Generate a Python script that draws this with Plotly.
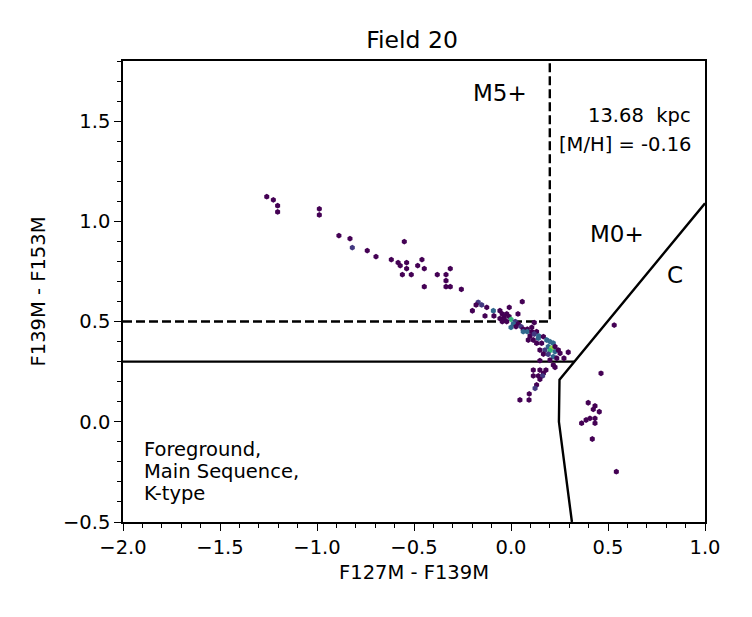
import plotly.graph_objects as go

# hexbin cell centres (colour index) and counts
hx = [-1.259, -1.225, -1.203, -1.203, -0.988, -0.988, -0.887, -0.830, -0.818, -0.741,
      -0.696, -0.550, -0.617, -0.582, -0.538, -0.571, -0.538, -0.459, -0.481, -0.447,
      -0.560, -0.514, -0.447, -0.380, -0.335, -0.313, -0.335, -0.335, -0.313, -0.256,
      -0.169, -0.180, -0.151, -0.125, -0.199, -0.091, -0.057, -0.009, 0.058, -0.134,
      -0.088, -0.045, -0.022, -0.035, -0.057, -0.010, -0.035, 0.000, 0.036, -0.022,
      -0.045, 0.022, 0.120, 0.012, 0.038, 0.000, 0.026, 0.052, 0.063, 0.084,
      0.107, 0.063, 0.084, 0.107, 0.132, 0.098, 0.120, 0.143, 0.089, 0.115,
      0.141, 0.167, 0.184, 0.201, 0.132, 0.158, 0.218, 0.192, 0.210, 0.227,
      0.149, 0.175, 0.201, 0.227, 0.244, 0.295, 0.253, 0.167, 0.192, 0.218,
      0.236, 0.273, 0.149, 0.201, 0.218, 0.227, 0.180, 0.149, 0.115, 0.115,
      0.141, 0.167, 0.163, 0.149, 0.132, 0.124, 0.094, 0.046, 0.093,
      0.532, 0.464, 0.398, 0.433, 0.424, 0.455, 0.433, 0.407, 0.387, 0.364,
      0.433, 0.419, 0.543]
hy = [1.123, 1.107, 1.078, 1.047, 1.062, 1.032, 0.929, 0.914, 0.869, 0.854,
      0.824, 0.899, 0.809, 0.794, 0.794, 0.779, 0.764, 0.809, 0.779, 0.764,
      0.734, 0.734, 0.674, 0.734, 0.734, 0.764, 0.704, 0.674, 0.674, 0.661,
      0.596, 0.583, 0.583, 0.571, 0.554, 0.554, 0.554, 0.571, 0.599, 0.528,
      0.528, 0.538, 0.538, 0.525, 0.515, 0.525, 0.511, 0.511, 0.538, 0.500,
      0.500, 0.500, 0.495, 0.488, 0.488, 0.471, 0.475, 0.475, 0.462, 0.462,
      0.471, 0.450, 0.450, 0.450, 0.450, 0.428, 0.438, 0.428, 0.408, 0.408,
      0.417, 0.425, 0.408, 0.400, 0.392, 0.392, 0.392, 0.375, 0.367, 0.375,
      0.358, 0.358, 0.355, 0.350, 0.358, 0.347, 0.342, 0.338, 0.337, 0.325,
      0.317, 0.317, 0.305, 0.308, 0.283, 0.272, 0.258, 0.258, 0.258, 0.229,
      0.229, 0.242, 0.229, 0.212, 0.184, 0.167, 0.139, 0.109, 0.109,
      0.482, 0.242, 0.095, 0.079, 0.062, 0.050, 0.017, 0.017, 0.009, -0.007,
      -0.007, -0.086, -0.249]
hc = [1, 1, 1, 1, 1, 1, 1, 1, 2, 1,
      1, 1, 1, 1, 1, 1, 1, 1, 1, 1,
      1, 1, 1, 1, 1, 1, 1, 1, 1, 1,
      2, 1, 2, 1, 1, 3, 1, 1, 1, 1,
      1, 1, 1, 1, 1, 1, 1, 5, 1, 1,
      1, 2, 1, 3, 1, 3, 1, 2, 1, 1,
      1, 3, 3, 1, 1, 1, 2, 3, 1, 1,
      3, 1, 3, 3, 1, 1, 3, 3, 6, 1,
      1, 2, 5, 3, 1, 1, 1, 1, 2, 3,
      1, 1, 1, 1, 1, 1, 1, 1, 1, 1,
      1, 1, 2, 1, 1, 2, 1, 1, 1,
      1, 1, 1, 1, 1, 1, 1, 1, 1, 1,
      1, 1, 1]

# region boundaries
dash_x = [-2.0, 0.2, 0.2]
dash_y = [0.5, 0.5, 1.8]
solid_h_x = [-2.0, 0.33]
solid_h_y = [0.3, 0.3]
solid_c_x = [1.0, 0.33, 0.25, 0.247, 0.314]
solid_c_y = [1.09, 0.3, 0.21, 0.0, -0.5]

FONT = "DejaVu Sans"
SMALL = 19.5
BIG = 23
fig = go.Figure()
fig.add_trace(go.Scatter(x=dash_x, y=dash_y, mode="lines",
                         line=dict(color="black", width=2.4, dash="9px,4px"),
                         hoverinfo="skip", showlegend=False))
fig.add_trace(go.Scatter(x=solid_h_x, y=solid_h_y, mode="lines",
                         line=dict(color="black", width=2.4),
                         hoverinfo="skip", showlegend=False))
fig.add_trace(go.Scatter(x=solid_c_x, y=solid_c_y, mode="lines",
                         line=dict(color="black", width=2.4),
                         hoverinfo="skip", showlegend=False))
fig.add_trace(go.Scatter(x=hx, y=hy, mode="markers",
                         marker=dict(symbol="hexagon", size=5.8, color=hc,
                                     colorscale="Viridis", cmin=1, cmax=7,
                                     line=dict(width=0)),
                         showlegend=False))

def ann(x, y, text, size, xanchor="center"):
    fig.add_annotation(x=x, y=y, xref="x", yref="y", text=text, showarrow=False,
                       font=dict(family=FONT, size=size, color="black"),
                       xanchor=xanchor, yanchor="middle", align="left")

ann(-0.057, 1.64, "M5+", BIG)
ann(0.94, 1.526, "13.68  kpc", SMALL, "right")
ann(0.94, 1.381, "[M/H] = -0.16", SMALL, "right")
ann(0.546, 0.937, "M0+", BIG)
ann(0.845, 0.733, "C", BIG)
ann(-1.9, -0.137, "Foreground,", SMALL, "left")
ann(-1.9, -0.247, "Main Sequence,", SMALL, "left")
ann(-1.9, -0.357, "K-type", SMALL, "left")

axis_common = dict(showline=True, linecolor="black", linewidth=1.6, mirror=True,
                   ticks="outside", ticklen=7, tickwidth=1.3, tickcolor="black",
                   showgrid=False, zeroline=False,
                   tickfont=dict(family=FONT, size=SMALL, color="black"),
                   minor=dict(ticks="outside", ticklen=4, tickwidth=1, dtick=0.1,
                              tickcolor="black", showgrid=False))
fig.update_xaxes(range=[-2, 1], tickvals=[-2, -1.5, -1, -0.5, 0, 0.5, 1],
                 ticktext=["\u22122.0", "\u22121.5", "\u22121.0", "\u22120.5", "0.0", "0.5", "1.0"],
                 title=dict(text="F127M - F139M", font=dict(family=FONT, size=SMALL, color="black"),
                            standoff=7),
                 **axis_common)
fig.update_yaxes(range=[-0.5, 1.8], tickvals=[-0.5, 0, 0.5, 1.0, 1.5],
                 ticktext=["\u22120.5", "0.0", "0.5", "1.0", "1.5"],
                 title=dict(text="F139M - F153M", font=dict(family=FONT, size=SMALL, color="black"),
                            standoff=12),
                 **axis_common)
fig.update_layout(width=752, height=617, plot_bgcolor="white", paper_bgcolor="white",
                  margin=dict(l=123, r=47, t=61, b=95),
                  title=dict(text="Field 20", x=0.548, xanchor="center", y=0.935, yanchor="middle",
                             font=dict(family=FONT, size=23.5, color="black")),
                  showlegend=False)
fig.write_html("out.html")
